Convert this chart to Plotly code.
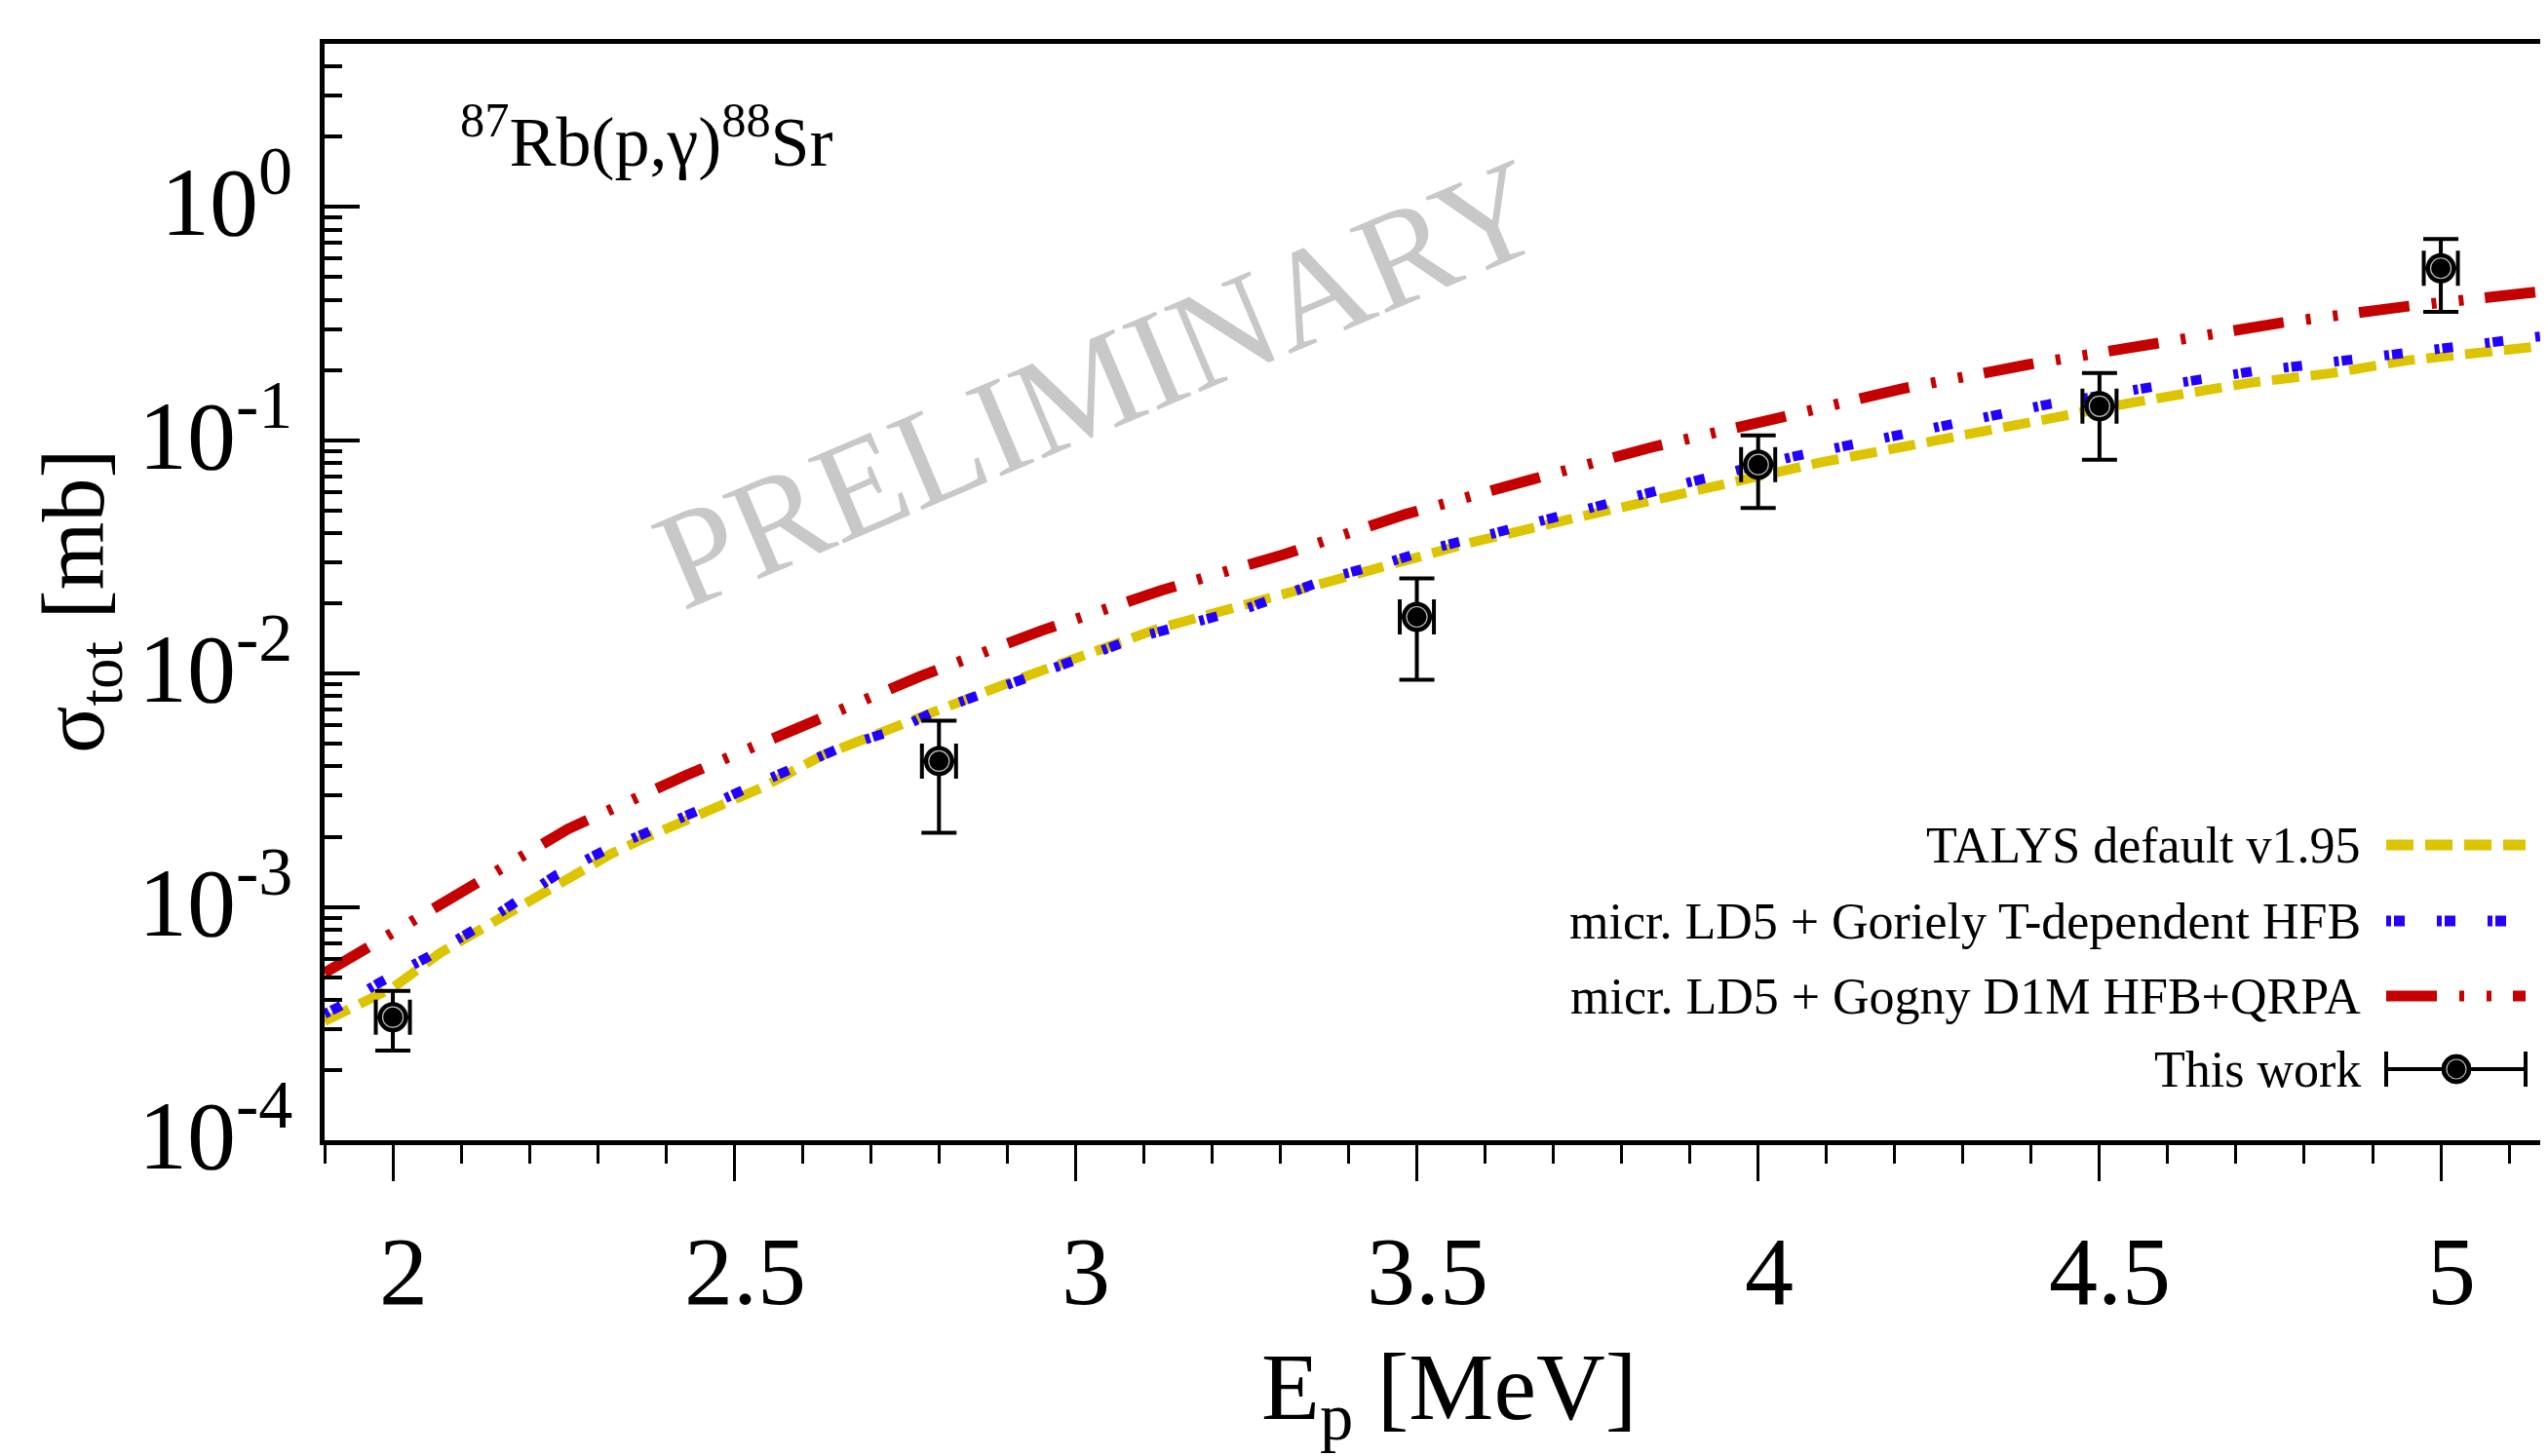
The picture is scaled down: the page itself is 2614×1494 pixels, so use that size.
import math
import plotly.graph_objects as go

# ---------------- data ----------------
E_talys = [1.90, 2.00, 2.07, 2.17, 2.27, 2.32, 2.37, 2.48, 2.54, 2.63, 2.69, 2.91, 3.12,
           3.41, 3.58, 3.75, 3.92, 4.09, 4.21, 4.38, 4.55, 4.72, 4.84, 4.95, 5.13, 5.20]
sig_talys = [3.24e-4, 4.51e-4, 6.37e-4, 9.35e-4, 1.40e-3, 1.69e-3, 1.98e-3, 2.69e-3, 3.24e-3,
             4.47e-3, 5.26e-3, 9.33e-3, 1.556e-2, 2.66e-2, 3.65e-2, 4.78e-2, 6.19e-2, 8.02e-2,
             9.35e-2, 0.1167, 0.1454, 0.1762, 0.194, 0.2198, 0.2489, 0.263]

E_goriely = [1.90, 1.92, 1.98, 2.05, 2.12, 2.18, 2.24, 2.31, 2.38, 2.45, 2.52, 2.59, 2.66,
             2.74, 2.80, 2.875, 2.95, 3.02, 3.09, 3.17, 3.25, 3.31, 3.38, 3.46, 3.53, 3.605,
             3.68, 3.755, 3.83, 3.90, 4.05, 4.12, 4.20, 4.275, 4.35, 4.425, 4.574, 4.65,
             4.726, 4.80, 4.875, 5.026, 5.10, 5.20]
sig_goriely = [3.48e-4, 3.72e-4, 4.73e-4, 6.07e-4, 8.02e-4, 1.05e-3, 1.374e-3, 1.746e-3,
               2.11e-3, 2.61e-3, 3.24e-3, 3.94e-3, 4.87e-3, 5.79e-3, 7.02e-3, 8.41e-3,
               1.019e-2, 1.189e-2, 1.426e-2, 1.648e-2, 1.90e-2, 2.198e-2, 2.61e-2, 3.01e-2,
               3.48e-2, 3.94e-2, 4.51e-2, 5.11e-2, 5.85e-2, 6.62e-2, 8.49e-2, 9.35e-2, 0.104,
               0.1167, 0.1282, 0.1426, 0.1687, 0.1832, 0.1977, 0.2094, 0.2228, 0.2535, 0.271,
               0.2917]

E_gogny = [1.90, 1.934, 2.097, 2.256, 2.428, 2.599, 2.772, 2.949, 3.127, 3.305, 3.484,
           3.665, 3.845, 4.03, 4.211, 4.396, 4.582, 4.767, 4.953, 5.125, 5.20]
sig_gogny = [5.21e-4, 5.96e-4, 1.132e-3, 2.153e-3, 3.65e-3, 6.01e-3, 9.72e-3, 1.524e-2,
             2.28e-2, 3.24e-2, 4.82e-2, 6.75e-2, 9.35e-2, 0.1247, 0.1663, 0.2113, 0.263,
             0.319, 0.3758, 0.4295, 0.4519]

E_exp = [2.0, 2.8, 3.5, 4.0, 4.5, 5.0]
E_exp_err = [0.025, 0.025, 0.025, 0.025, 0.025, 0.025]
sig_exp = [3.37e-4, 4.22e-3, 1.75e-2, 7.87e-2, 0.140, 0.546]
sig_exp_hi = [4.37e-4, 6.28e-3, 2.56e-2, 0.105, 0.194, 0.729]
sig_exp_lo = [2.42e-4, 2.08e-3, 9.4e-3, 0.0513, 0.0826, 0.355]

x_major = [2, 2.5, 3, 3.5, 4, 4.5, 5]
x_major_text = ["2", "2.5", "3", "3.5", "4", "4.5", "5"]
x_minor = [1.9, 2.1, 2.2, 2.3, 2.4, 2.6, 2.7, 2.8, 2.9, 3.1, 3.2, 3.3, 3.4, 3.6, 3.7,
           3.8, 3.9, 4.1, 4.2, 4.3, 4.4, 4.6, 4.7, 4.8, 4.9, 5.1]
y_major = [1e-4, 1e-3, 1e-2, 1e-1, 1]
y_major_text = ["10<sup>-4</sup>", "10<sup>-3</sup>", "10<sup>-2</sup>",
                "10<sup>-1</sup>", "10<sup>0</sup>"]
y_minor = [m * d for d in [1e-4, 1e-3, 1e-2, 1e-1, 1] for m in range(2, 10) if m * d <= 5]

legend_labels = ["TALYS default v1.95",
                 "micr. LD5 + Goriely T-dependent HFB",
                 "micr. LD5 + Gogny D1M HFB+QRPA",
                 "This work"]

# ---------------- styling / geometry ----------------
FONT = "Liberation Serif"
YELLOW = "#DDC400"
BLUE = "#2200FF"
RED = "#C40000"
OFF = 8                       # default page body margin
W, H = 2614 - OFF, 1494 - OFF
PL, PT, PR, PB = 333, 45, 2614, 1170   # plot area in page pixels
L, T = PL - OFF, PT - OFF
R = 0
B = H - T - (PB - PT)
PW, PH = PR - PL, PB - PT
DASH_Y = "28px,12px"
DASH_B = "5px,3px,11px,33px"
DASH_R = "52px,23px,5px,23px,5px,22px"


def px(xp):
    return (xp - PL) / PW


def py(yp):
    return (PB - yp) / PH


fig = go.Figure()

fig.add_trace(go.Scatter(x=E_talys, y=sig_talys, mode="lines",
                         line=dict(color=YELLOW, width=10, dash=DASH_Y),
                         showlegend=False, hoverinfo="skip"))
fig.add_trace(go.Scatter(x=E_goriely, y=sig_goriely, mode="lines",
                         line=dict(color=BLUE, width=10, dash=DASH_B),
                         showlegend=False, hoverinfo="skip"))
fig.add_trace(go.Scatter(x=E_gogny, y=sig_gogny, mode="lines",
                         line=dict(color=RED, width=11, dash=DASH_R),
                         showlegend=False, hoverinfo="skip"))

err_plus = [h - c for h, c in zip(sig_exp_hi, sig_exp)]
err_minus = [c - l for c, l in zip(sig_exp, sig_exp_lo)]
fig.add_trace(go.Scatter(
    x=E_exp, y=sig_exp, mode="markers",
    marker=dict(symbol="circle", size=31, color="black", line=dict(width=0)),
    error_y=dict(type="data", symmetric=False, array=err_plus, arrayminus=err_minus,
                 thickness=4, width=18, color="black"),
    error_x=dict(type="data", array=E_exp_err, thickness=4, width=18, color="black"),
    showlegend=False, hoverinfo="skip"))
fig.add_trace(go.Scatter(
    x=E_exp, y=sig_exp, mode="markers",
    marker=dict(symbol="circle-open", size=21, color="rgba(255,255,255,0.75)",
                line=dict(width=1.2, color="rgba(255,255,255,0.75)")),
    showlegend=False, hoverinfo="skip"))
# invisible trace so the right-hand tick axis is drawn
fig.add_trace(go.Scatter(x=E_exp, y=sig_exp, mode="markers", yaxis="y2",
                         marker=dict(opacity=0), showlegend=False, hoverinfo="skip"))

annotations = []
shapes = []

# ---------------- tick labels (placed like the reference) ----------------
for v, t in zip(x_major, x_major_text):
    annotations.append(dict(text=t, x=v, y=py(1304), xref="x", yref="paper",
                            xanchor="center", yanchor="middle", xshift=11, showarrow=False,
                            font=dict(family=FONT, size=100, color="black")))
for v, t in zip(y_major, y_major_text):
    annotations.append(dict(text=t, x=px(302), y=math.log10(v), xref="paper", yref="y",
                            xanchor="right", yanchor="middle", yshift=12, showarrow=False,
                            font=dict(family=FONT, size=100, color="black")))

# ---------------- legend (symbols right of text) ----------------
rows_y = [867, 945, 1022, 1097]
x_text = 2424
x0s, x1s = 2448, 2591
for lab, yy in zip(legend_labels, rows_y):
    annotations.append(dict(text=lab, x=px(x_text), y=py(yy), xref="paper", yref="paper",
                            xanchor="right", yanchor="middle", showarrow=False,
                            font=dict(family=FONT, size=52, color="black")))
for yy, col, dash in zip(rows_y[:3], [YELLOW, BLUE, RED], [DASH_Y, DASH_B, DASH_R]):
    shapes.append(dict(type="line", xref="paper", yref="paper",
                       x0=px(x0s), x1=px(x1s), y0=py(yy), y1=py(yy),
                       line=dict(color=col, width=11, dash=dash)))
yw = rows_y[3]
shapes.append(dict(type="line", xref="paper", yref="paper", x0=px(x0s), x1=px(x1s),
                   y0=py(yw), y1=py(yw), line=dict(color="black", width=4)))
for xc in [x0s, x1s]:
    shapes.append(dict(type="line", xref="paper", yref="paper", x0=px(xc), x1=px(xc),
                       y0=py(yw - 18), y1=py(yw + 18), line=dict(color="black", width=4)))
shapes.append(dict(type="circle", xref="paper", yref="paper",
                   xsizemode="pixel", ysizemode="pixel",
                   xanchor=px(2520), yanchor=py(yw), x0=-15, x1=15, y0=-15, y1=15,
                   fillcolor="black", line=dict(color="black", width=1)))
shapes.append(dict(type="circle", xref="paper", yref="paper",
                   xsizemode="pixel", ysizemode="pixel",
                   xanchor=px(2520), yanchor=py(yw), x0=-10, x1=10, y0=-10, y1=10,
                   line=dict(color="rgba(255,255,255,0.75)", width=1.2)))

# reaction label
annotations.append(dict(text="<sup>87</sup>Rb(p,γ)<sup>88</sup>Sr", x=px(470), y=py(140),
                        xref="paper", yref="paper", xanchor="left", yanchor="middle",
                        showarrow=False, font=dict(family=FONT, size=72, color="black")))
# watermark
annotations.append(dict(text="PRELIMINARY", x=px(1127), y=py(394), xref="paper", yref="paper",
                        xanchor="center", yanchor="middle", textangle=-23, showarrow=False,
                        font=dict(family=FONT, size=143, color="#C8C8C8")))
# axis titles
annotations.append(dict(text="E<sub>p</sub> [MeV]", x=px(1486), y=py(1430),
                        xref="paper", yref="paper", xanchor="center", yanchor="middle",
                        showarrow=False, font=dict(family=FONT, size=98, color="black")))
annotations.append(dict(text="σ<sub>tot</sub> [mb]", x=px(82), y=py(617),
                        xref="paper", yref="paper", xanchor="center", yanchor="middle",
                        textangle=-90, showarrow=False,
                        font=dict(family=FONT, size=90, color="black")))

fig.update_layout(
    width=W, height=H,
    margin=dict(l=L, r=R, t=T, b=B, pad=0),
    paper_bgcolor="white", plot_bgcolor="white",
    font=dict(family=FONT, color="black"),
    showlegend=False,
    annotations=annotations,
    shapes=shapes,
    xaxis=dict(range=[1.9, 5.157], showgrid=False, zeroline=False,
               showline=True, linewidth=5, linecolor="black", mirror=True,
               tickmode="array", tickvals=x_major, showticklabels=False,
               ticks="outside", ticklen=37, tickwidth=3, tickcolor="black",
               minor=dict(tickmode="array", tickvals=x_minor, ticks="outside",
                          ticklen=19, tickwidth=3, tickcolor="black", showgrid=False)),
    yaxis=dict(type="log", range=[-4, 0.699], showgrid=False, zeroline=False,
               showline=True, linewidth=5, linecolor="black", mirror=False,
               tickmode="array", tickvals=y_major, showticklabels=False,
               ticks="inside", ticklen=36, tickwidth=4, tickcolor="black",
               minor=dict(tickmode="array", tickvals=y_minor, ticks="inside",
                          ticklen=18, tickwidth=4, tickcolor="black", showgrid=False)),
    yaxis2=dict(type="log", range=[-4, 0.699], overlaying="y", side="right", anchor="x",
                showgrid=False, zeroline=False, showline=False,
                tickmode="array", tickvals=y_major, showticklabels=False,
                ticks="inside", ticklen=7, tickwidth=4, tickcolor="black"),
)

fig.write_html("out.html")
